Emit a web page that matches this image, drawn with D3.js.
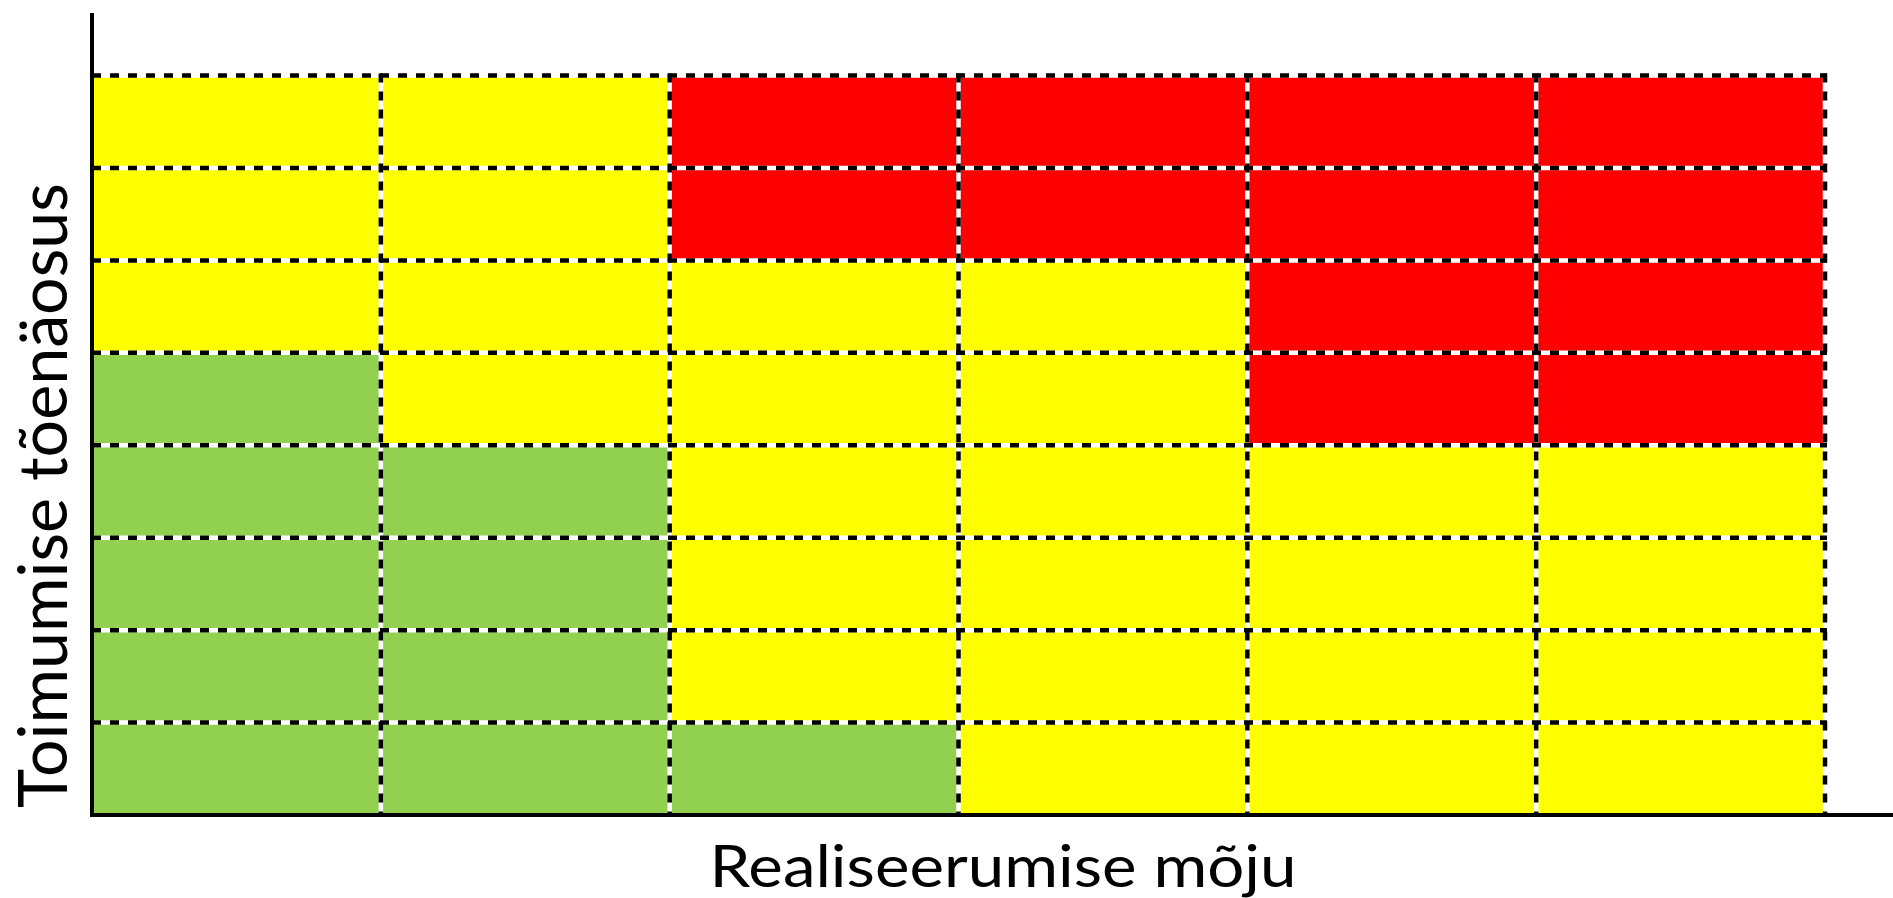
<!DOCTYPE html>
<html>
<head>
<meta charset="utf-8">
<script src="https://cdn.jsdelivr.net/npm/d3@7"></script>
<style>
  html, body { margin: 0; padding: 0; background: #fff; }
  svg { display: block; }
</style>
</head>
<body>
<svg id="chart" width="1893" height="898"></svg>
<script>
// impact columns (left -> right), likelihood rows (top -> bottom)
const impactCols = [1, 2, 3, 4, 5, 6]
const likelihoodRows = [8, 7, 6, 5, 4, 3, 2, 1]
// risk level per row, top row first
const riskMatrix = [
  ["Y", "Y", "R", "R", "R", "R"],
  ["Y", "Y", "R", "R", "R", "R"],
  ["Y", "Y", "Y", "Y", "R", "R"],
  ["G", "Y", "Y", "Y", "R", "R"],
  ["G", "G", "Y", "Y", "Y", "Y"],
  ["G", "G", "Y", "Y", "Y", "Y"],
  ["G", "G", "Y", "Y", "Y", "Y"],
  ["G", "G", "G", "Y", "Y", "Y"]
]
const riskLevels = ["G", "Y", "R"]
const xLabel = "Realiseerumise mõju"
const yLabel = "Toimumise tõenäosus"

const svg = d3.select("#chart")
const plotLeft = 92, plotRight = 1825, plotTop = 75.5, plotBottom = 815

const x = d3.scaleBand().domain(impactCols).range([plotLeft, plotRight]).padding(0)
const y = d3.scaleBand().domain(likelihoodRows).range([plotTop, plotBottom]).padding(0)
const color = d3.scaleOrdinal().domain(riskLevels).range(["#92D050", "#FFFF00", "#FF0000"])

const cells = []
riskMatrix.forEach((row, r) => {
  row.forEach((lvl, c) => cells.push({ row: likelihoodRows[r], col: impactCols[c], lvl: lvl }))
})

svg.append("g").selectAll("rect")
  .data(cells)
  .join("rect")
  .attr("x", d => x(d.col))
  .attr("y", d => y(d.row))
  .attr("width", x.bandwidth() + 0.5)
  .attr("height", y.bandwidth() + 0.5)
  .attr("fill", d => color(d.lvl))

// grid lines: white under, black dashes on top
const hLines = likelihoodRows.map(r => y(r))             // top edge of each row
const vLines = impactCols.map(c => x(c) + x.bandwidth()) // right edge of each column

const grid = svg.append("g")
function drawGrid(stroke, dash) {
  grid.selectAll(null)
    .data(hLines)
    .join("line")
    .attr("x1", plotLeft).attr("x2", plotRight + 2)
    .attr("y1", d => d).attr("y2", d => d)
    .attr("stroke", stroke).attr("stroke-width", 4.5)
    .attr("stroke-dasharray", dash)
  grid.selectAll(null)
    .data(vLines)
    .join("line")
    .attr("x1", d => d).attr("x2", d => d)
    .attr("y1", plotTop - 2).attr("y2", plotBottom)
    .attr("stroke", stroke).attr("stroke-width", 4.5)
    .attr("stroke-dasharray", dash)
}
drawGrid("#fff", null)
drawGrid("#000", "9,9")

// axes
svg.append("line")
  .attr("x1", plotLeft).attr("x2", plotLeft)
  .attr("y1", 13).attr("y2", plotBottom + 2)
  .attr("stroke", "#000").attr("stroke-width", 4)
svg.append("line")
  .attr("x1", plotLeft - 2).attr("x2", 1893)
  .attr("y1", plotBottom).attr("y2", plotBottom)
  .attr("stroke", "#000").attr("stroke-width", 4)

// labels
svg.append("text")
  .attr("x", 1003)
  .attr("y", 887)
  .attr("text-anchor", "middle")
  .attr("font-family", "Lato, 'Open Sans', sans-serif")
  .attr("font-size", 58)
  .attr("textLength", 587)
  .attr("lengthAdjust", "spacingAndGlyphs")
  .attr("fill", "#000")
  .text(xLabel)

svg.append("text")
  .attr("transform", "translate(67,495.5) rotate(-90)")
  .attr("text-anchor", "middle")
  .attr("font-family", "Lato, 'Open Sans', sans-serif")
  .attr("font-size", 68)
  .attr("textLength", 625)
  .attr("lengthAdjust", "spacingAndGlyphs")
  .attr("fill", "#000")
  .text(yLabel)
</script>
</body>
</html>
